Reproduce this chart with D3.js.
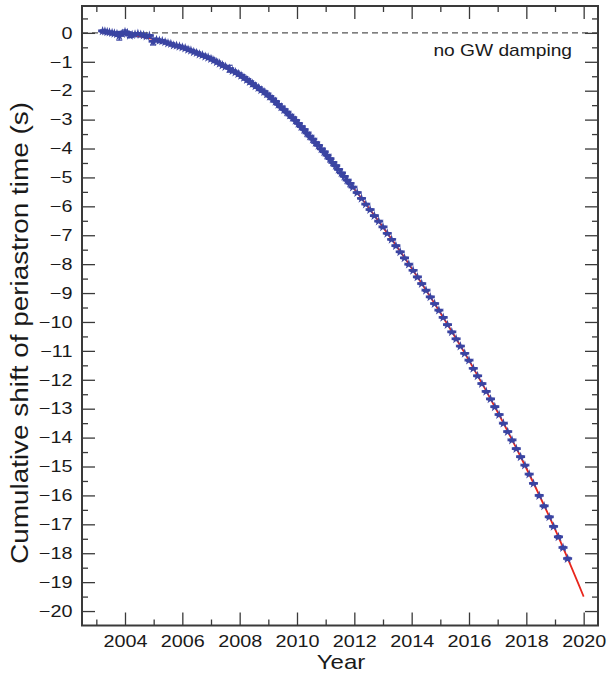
<!DOCTYPE html>
<html>
<head>
<meta charset="utf-8">
<script src="https://cdn.jsdelivr.net/npm/d3@7"></script>
<style>
  html, body { margin: 0; padding: 0; background: #fff; }
  svg { display: block; font-family: "Liberation Sans", Arial, Helvetica, sans-serif; }
</style>
</head>
<body>
<svg id="chart" width="607" height="673"></svg>
<script>
// GR prediction of the cumulative periastron-time shift (s)
const modelYear  = [2003.2, 2004, 2005, 2006, 2007, 2008, 2009, 2010, 2011, 2012, 2013, 2014, 2015, 2016, 2017, 2018, 2019, 2020];
const modelShift = [0.02, -0.04, -0.22, -0.50, -0.90, -1.45, -2.15, -3.08, -4.18, -5.40, -6.72, -8.14, -9.68, -11.33, -13.12, -15.06, -17.17, -19.50];

// Measured shifts with 1-sigma uncertainties
const obsYear = [
  2003.22, 2003.30, 2003.38, 2003.46, 2003.55, 2003.63, 2003.72, 2003.80, 2003.90, 2004.00,
  2004.08, 2004.17, 2004.25, 2004.35, 2004.45, 2004.55, 2004.65, 2004.75, 2004.85, 2004.98,
  2005.10, 2005.20, 2005.30, 2005.40, 2005.50, 2005.60, 2005.70, 2005.80, 2005.90, 2006.00,
  2006.10, 2006.20, 2006.30, 2006.40, 2006.50, 2006.60, 2006.70, 2006.80, 2006.90, 2007.00,
  2007.10, 2007.20, 2007.30, 2007.40, 2007.50, 2007.65, 2007.75, 2007.85, 2007.95, 2008.05,
  2008.15, 2008.25, 2008.35, 2008.45, 2008.55, 2008.65, 2008.75, 2008.85, 2008.95, 2009.05,
  2009.15, 2009.25, 2009.35, 2009.45, 2009.55, 2009.65, 2009.75, 2009.85, 2009.95, 2010.05,
  2010.15, 2010.25, 2010.35, 2010.45, 2010.55, 2010.65, 2010.75, 2010.85, 2010.95, 2011.05,
  2011.15, 2011.25, 2011.35, 2011.45, 2011.55, 2011.65, 2011.75, 2011.85, 2011.95, 2012.10,
  2012.25, 2012.40, 2012.55, 2012.70, 2012.85, 2013.00, 2013.15, 2013.30, 2013.45, 2013.60,
  2013.75, 2013.90, 2014.05, 2014.20, 2014.35, 2014.50, 2014.65, 2014.80, 2014.95, 2015.10,
  2015.25, 2015.40, 2015.55, 2015.70, 2015.85, 2016.00, 2016.15, 2016.30, 2016.45, 2016.60,
  2016.75, 2016.90, 2017.05, 2017.20, 2017.35, 2017.50, 2017.65, 2017.80, 2017.95, 2018.10,
  2018.25, 2018.45, 2018.62, 2018.80, 2018.95, 2019.12, 2019.28, 2019.44
];
const obsShift = [
  0.06, 0.05, 0.03, 0.02, 0.00, -0.02, -0.04, -0.10, -0.03, 0.03,
  0.00, -0.09, -0.07, -0.05, -0.03, -0.06, -0.08, -0.12, -0.10, -0.30,
  -0.24, -0.27, -0.28, -0.32, -0.36, -0.38, -0.43, -0.44, -0.47, -0.50,
  -0.53, -0.58, -0.61, -0.66, -0.69, -0.74, -0.77, -0.82, -0.85, -0.90,
  -0.95, -1.01, -1.06, -1.12, -1.17, -1.24, -1.31, -1.36, -1.42, -1.48,
  -1.55, -1.62, -1.69, -1.76, -1.84, -1.90, -1.98, -2.04, -2.12, -2.20,
  -2.29, -2.38, -2.48, -2.57, -2.66, -2.75, -2.85, -2.94, -3.03, -3.14,
  -3.25, -3.35, -3.47, -3.58, -3.68, -3.80, -3.90, -4.02, -4.12, -4.24,
  -4.36, -4.49, -4.60, -4.73, -4.85, -4.97, -5.10, -5.21, -5.34, -5.53,
  -5.73, -5.93, -6.12, -6.33, -6.52, -6.72, -6.94, -7.15, -7.37, -7.58,
  -7.79, -8.01, -8.22, -8.45, -8.68, -8.91, -9.14, -9.37, -9.60, -9.85,
  -10.10, -10.35, -10.59, -10.84, -11.09, -11.33, -11.61, -11.87, -12.14, -12.41,
  -12.67, -12.94, -13.21, -13.51, -13.80, -14.09, -14.39, -14.67, -14.96, -15.27,
  -15.59, -16.01, -16.37, -16.75, -17.08, -17.44, -17.81, -18.19
];
const obsErr = [
  0.04, 0.04, 0.03, 0.03, 0.04, 0.03, 0.04, 0.15, 0.04, 0.07,
  0.04, 0.07, 0.04, 0.03, 0.04, 0.03, 0.04, 0.05, 0.04, 0.12,
  0.05, 0.04, 0.04, 0.03, 0.03, 0.03, 0.03, 0.03, 0.03, 0.03,
  0.03, 0.03, 0.03, 0.03, 0.03, 0.03, 0.03, 0.03, 0.03, 0.03,
  0.03, 0.03, 0.03, 0.03, 0.03, 0.12, 0.03, 0.03, 0.03, 0.03,
  0.03, 0.03, 0.03, 0.03, 0.03, 0.03, 0.03, 0.03, 0.03, 0.03,
  0.03, 0.03, 0.03, 0.03, 0.03, 0.03, 0.03, 0.03, 0.03, 0.03,
  0.03, 0.03, 0.03, 0.03, 0.03, 0.03, 0.03, 0.03, 0.03, 0.03,
  0.03, 0.03, 0.03, 0.03, 0.03, 0.03, 0.03, 0.03, 0.03, 0.03,
  0.03, 0.03, 0.03, 0.03, 0.03, 0.03, 0.03, 0.03, 0.03, 0.03,
  0.03, 0.03, 0.03, 0.03, 0.03, 0.03, 0.03, 0.03, 0.03, 0.03,
  0.03, 0.03, 0.03, 0.03, 0.03, 0.03, 0.03, 0.03, 0.03, 0.03,
  0.03, 0.03, 0.03, 0.03, 0.03, 0.03, 0.03, 0.03, 0.03, 0.03,
  0.03, 0.04, 0.04, 0.04, 0.04, 0.05, 0.05, 0.05
];

// Axis ticks
const xMajorTicks = [2004, 2006, 2008, 2010, 2012, 2014, 2016, 2018, 2020];
const xMinorTicks = [2003, 2005, 2007, 2009, 2011, 2013, 2015, 2017, 2019];
const yMajorTicks = d3.range(0, -21, -1);
const yMinorTicks = [0.5].concat(d3.range(-0.5, -20.5, -1));

const annotation = "no GW damping";
const xTitle = "Year";
const yTitle = "Cumulative shift of periastron time (s)";

const svg = d3.select("#chart");
const plot = { left: 82, top: 6, right: 598, bottom: 625.5 };

const x = d3.scaleLinear().domain([2002.5, 2020.5]).range([plot.left, plot.right]);
const y = d3.scaleLinear().domain([-20.5, 0.93]).range([plot.bottom, plot.top]);

const axisColor = "#3a3a3a";
const textColor = "#1a1a1a";
const blue = "#3a44a2";
const red = "#e8261c";
const wide = "scale(1.2,1)";   // lettering is set slightly wide

// zero reference: no gravitational-wave damping
svg.append("line")
  .attr("x1", plot.left).attr("x2", plot.right)
  .attr("y1", y(0)).attr("y2", y(0))
  .attr("stroke", "#555").attr("stroke-width", 1.3)
  .attr("stroke-dasharray", "6,4");

svg.append("text")
  .attr("transform", `translate(572,56) ${wide}`)
  .attr("text-anchor", "end")
  .attr("font-size", 16).attr("fill", textColor)
  .text(annotation);

// model curve
const model = modelYear.map((t, i) => [t, modelShift[i]]);
svg.append("path")
  .datum(model)
  .attr("fill", "none")
  .attr("stroke", red)
  .attr("stroke-width", 1.8)
  .attr("d", d3.line().x(d => x(d[0])).y(d => y(d[1])).curve(d3.curveMonotoneX));

// measurements
const obs = obsYear.map((t, i) => ({ t, v: obsShift[i], e: obsErr[i] }));
const g = svg.append("g").attr("fill", blue).attr("stroke", blue);

g.selectAll("line.err").data(obs).join("line")
  .attr("class", "err")
  .attr("x1", d => x(d.t)).attr("x2", d => x(d.t))
  .attr("y1", d => y(d.v + d.e)).attr("y2", d => y(d.v - d.e))
  .attr("stroke-width", 1.6);

g.selectAll("line.cap").data(obs.flatMap(d => [d.v + d.e, d.v - d.e].map(v => ({ t: d.t, v })))).join("line")
  .attr("class", "cap")
  .attr("x1", d => x(d.t) - 3).attr("x2", d => x(d.t) + 3)
  .attr("y1", d => y(d.v)).attr("y2", d => y(d.v))
  .attr("stroke-width", 1.2);

g.selectAll("line.bar").data(obs).join("line")
  .attr("class", "bar")
  .attr("x1", d => x(d.t) - 4.5).attr("x2", d => x(d.t) + 4.5)
  .attr("y1", d => y(d.v)).attr("y2", d => y(d.v))
  .attr("stroke-width", 2.2);

g.selectAll("path.sym").data(obs).join("path")
  .attr("class", "sym")
  .attr("stroke", "none")
  .attr("transform", d => `translate(${x(d.t)},${y(d.v)})`)
  .attr("d", d3.symbol(d3.symbolStar, 30)());

// axes: ticks on all four sides, pointing inward
const axes = svg.append("g").attr("color", axisColor);
function styleAxis(sel) {
  sel.select(".domain").remove();
  sel.selectAll(".tick line").attr("stroke-width", 1.3);
}
const majorLen = 13, minorLen = 6;

axes.append("g").attr("transform", `translate(0,${plot.bottom})`)
  .call(d3.axisBottom(x).tickValues(xMajorTicks).tickFormat(d3.format("d")).tickSizeInner(-majorLen).tickSizeOuter(0).tickPadding(6))
  .call(styleAxis)
  .call(s => s.selectAll("text").attr("font-size", 16.5).attr("fill", textColor).attr("dy", "0.95em").attr("transform", wide));
axes.append("g").attr("transform", `translate(0,${plot.bottom})`)
  .call(d3.axisBottom(x).tickValues(xMinorTicks).tickFormat("").tickSizeInner(-minorLen).tickSizeOuter(0))
  .call(styleAxis);
axes.append("g").attr("transform", `translate(0,${plot.top})`)
  .call(d3.axisTop(x).tickValues(xMajorTicks).tickFormat("").tickSizeInner(-majorLen).tickSizeOuter(0))
  .call(styleAxis);
axes.append("g").attr("transform", `translate(0,${plot.top})`)
  .call(d3.axisTop(x).tickValues(xMinorTicks).tickFormat("").tickSizeInner(-minorLen).tickSizeOuter(0))
  .call(styleAxis);

axes.append("g").attr("transform", `translate(${plot.left},0)`)
  .call(d3.axisLeft(y).tickValues(yMajorTicks).tickFormat(d3.format("d")).tickSizeInner(-majorLen).tickSizeOuter(0).tickPadding(8))
  .call(styleAxis)
  .call(s => s.selectAll("text").attr("font-size", 16.5).attr("fill", textColor).attr("transform", wide));
axes.append("g").attr("transform", `translate(${plot.left},0)`)
  .call(d3.axisLeft(y).tickValues(yMinorTicks).tickFormat("").tickSizeInner(-minorLen).tickSizeOuter(0))
  .call(styleAxis);
axes.append("g").attr("transform", `translate(${plot.right},0)`)
  .call(d3.axisRight(y).tickValues(yMajorTicks).tickFormat("").tickSizeInner(-majorLen).tickSizeOuter(0))
  .call(styleAxis);
axes.append("g").attr("transform", `translate(${plot.right},0)`)
  .call(d3.axisRight(y).tickValues(yMinorTicks).tickFormat("").tickSizeInner(-minorLen).tickSizeOuter(0))
  .call(styleAxis);

// frame
svg.append("rect")
  .attr("x", plot.left).attr("y", plot.top)
  .attr("width", plot.right - plot.left).attr("height", plot.bottom - plot.top)
  .attr("fill", "none").attr("stroke", axisColor).attr("stroke-width", 2);

// titles
svg.append("text")
  .attr("transform", `translate(${(plot.left + plot.right) / 2 + 1},669) ${wide}`)
  .attr("text-anchor", "middle").attr("font-size", 20).attr("fill", textColor)
  .text(xTitle);

svg.append("text")
  .attr("transform", `translate(28,333) rotate(-90)`)
  .attr("text-anchor", "middle").attr("font-size", 23).attr("fill", textColor)
  .attr("textLength", 462).attr("lengthAdjust", "spacingAndGlyphs")
  .text(yTitle);
</script>
</body>
</html>
